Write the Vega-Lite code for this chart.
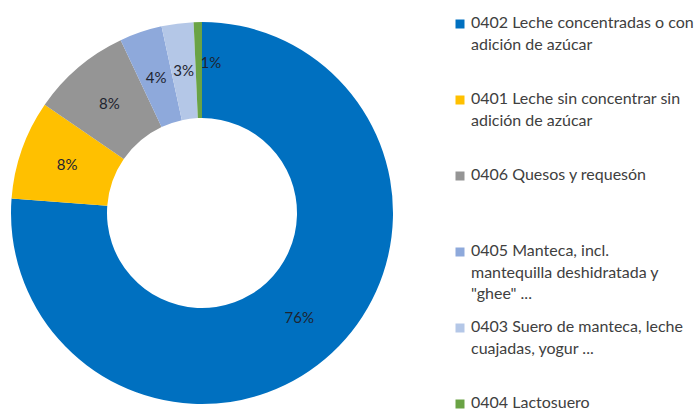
{
  "$schema": "https://vega.github.io/schema/vega-lite/v6.json",
  "autosize": "none",
  "width": 404,
  "height": 394,
  "padding": {"left": 0, "top": 16, "right": 293, "bottom": 0},
  "background": "white",
  "data": {
    "values": [
      {"ord": 1, "producto": "0402 Leche concentradas o con adición de azúcar", "share": 0.762},
      {"ord": 2, "producto": "0401 Leche sin concentrar sin adición de azúcar", "share": 0.084},
      {"ord": 3, "producto": "0406 Quesos y requesón", "share": 0.084},
      {"ord": 4, "producto": "0405 Manteca, incl. mantequilla deshidratada y \"ghee\" ...", "share": 0.036},
      {"ord": 5, "producto": "0403 Suero de manteca, leche cuajadas, yogur ...", "share": 0.027},
      {"ord": 6, "producto": "0404 Lactosuero", "share": 0.007}
    ]
  },
  "encoding": {
    "theta": {"field": "share", "type": "quantitative", "stack": true},
    "order": {"field": "ord", "type": "quantitative"}
  },
  "layer": [
    {
      "mark": {"type": "arc", "innerRadius": 95, "outerRadius": 191, "strokeWidth": 0},
      "encoding": {
        "color": {
          "field": "producto",
          "type": "nominal",
          "scale": {
            "domain": [
              "0402 Leche concentradas o con adición de azúcar",
              "0401 Leche sin concentrar sin adición de azúcar",
              "0406 Quesos y requesón",
              "0405 Manteca, incl. mantequilla deshidratada y \"ghee\" ...",
              "0403 Suero de manteca, leche cuajadas, yogur ...",
              "0404 Lactosuero"
            ],
            "range": ["#0070C0", "#FFC000", "#959595", "#8EA9DB", "#B4C7E7", "#6AA345"]
          },
          "legend": {
            "orient": "none",
            "legendX": 452,
            "legendY": 0,
            "title": null,
            "symbolType": "square",
            "symbolSize": 81,
            "symbolStrokeWidth": 0,
            "labelFont": "Lato",
            "labelFontSize": 16,
            "labelColor": "#404040",
            "labelLimit": 300,
            "labelOffset": 3,
            "labelBaseline": "top",
            "gridAlign": "all",
            "rowPadding": 17,
            "labelExpr": "slice(datum.label,0,4)=='0402' ? ['0402 Leche concentradas o con','adición de azúcar'] : slice(datum.label,0,4)=='0401' ? ['0401 Leche sin concentrar sin','adición de azúcar'] : slice(datum.label,0,4)=='0405' ? ['0405 Manteca, incl.','mantequilla deshidratada y','\"ghee\" ...'] : slice(datum.label,0,4)=='0403' ? ['0403 Suero de manteca, leche','cuajadas, yogur ...'] : datum.label",
            "encode": {"labels": {"update": {"lineHeight": {"value": 21.5}, "dy": {"value": -9}}}}
          }
        }
      }
    },
    {
      "transform": [{"filter": "datum.ord != 6"}],
      "mark": {"type": "text", "radius": 143, "font": "Lato", "fontSize": 15},
      "encoding": {
        "text": {"field": "share", "type": "quantitative", "format": ".0%"},
        "color": {"value": "#1e2430"}
      }
    },
    {
      "mark": {"type": "text", "radius": 143, "font": "Lato", "fontSize": 15, "dx": 12, "dy": -7},
      "encoding": {
        "text": {"condition": {"test": "datum.ord == 6", "field": "share", "type": "quantitative", "format": ".0%"}, "value": ""},
        "color": {"value": "#1e2430"}
      }
    }
  ],
  "config": {"view": {"stroke": null}}
}
